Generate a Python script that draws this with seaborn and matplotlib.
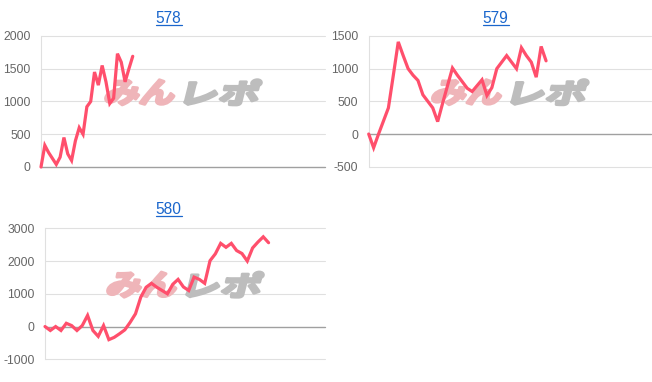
import matplotlib
matplotlib.use("Agg")
import matplotlib.pyplot as plt
import seaborn as sns
import pandas as pd
from matplotlib.textpath import TextPath
from matplotlib.patches import PathPatch
from matplotlib.font_manager import FontProperties
from matplotlib.transforms import Affine2D
from matplotlib.lines import Line2D

# ---------------- data ----------------
titles = ["578", "579", "580"]
values_578 = [0, 330, 220, 130, 40, 150, 450, 200, 100, 400, 600, 500, 920,
              1000, 1450, 1250, 1550, 1300, 970, 1050, 1730, 1600, 1300, 1500, 1690]
values_579 = [0, -210, 0, 200, 400, 900, 1410, 1200, 1000, 900, 820, 600, 500,
              400, 190, 470, 740, 1010, 900, 800, 700, 650, 740, 830, 590, 710,
              1000, 1100, 1200, 1100, 1000, 1320, 1200, 1100, 870, 1340, 1120]
values_580 = [0, -120, 0, -120, 100, 30, -120, 30, 340, -120, -300, 30, -400,
              -330, -220, -100, 130, 390, 900, 1200, 1320, 1200, 1100, 1000, 1290,
              1440, 1210, 1100, 1510, 1440, 1320, 2010, 2220, 2540, 2420, 2540,
              2320, 2230, 2000, 2400, 2580, 2740, 2560]
yticks_578 = [0, 500, 1000, 1500, 2000]
yticks_579 = [-500, 0, 500, 1000, 1500]
yticks_580 = [-1000, 0, 1000, 2000, 3000]
logo_left = "みん"
logo_right = "レポ"

# ---------------- layout ----------------
W, H = 652, 382
sns.set_style("white")
plt.rcParams["font.family"] = ["Liberation Sans", "DejaVu Sans"]

LINE_COLOR = "#ff4f6c"
GRID = "#e0e0e0"
ZERO = "#a0a0a0"
TICK = "#666666"
TITLE = "#1a66cc"

panels = [
    dict(title=titles[0], values=values_578, yticks=yticks_578,
         box=(41, 36, 325, 167), span=74.3, tx=168.7, ty=22.7),
    dict(title=titles[1], values=values_579, yticks=yticks_579,
         box=(368.7, 36, 651, 166.7), span=57.3, tx=495.7, ty=22.7),
    dict(title=titles[2], values=values_580, yticks=yticks_580,
         box=(45, 228.3, 325, 359.3), span=52.6, tx=168.7, ty=214.3),
]

fig = plt.figure(figsize=(W / 100, H / 100), dpi=100)
px2fig = Affine2D().scale(1 / W, 1 / H) + fig.transFigure

fp_logo = FontProperties(family="Noto Sans CJK JP", weight="bold")


def add_logo(ax, cx, cy):
    total_w, h = 158, 25
    parts = [(logo_left, "#efb5b9", 0, 74), (logo_right, "#bdbdbd", 80, 78)]
    skew = 14
    shift = h * 0.249
    left0 = cx - total_w / 2
    bottom = cy - h / 2
    for txt, col, off, w in parts:
        tp = TextPath((0, 0), txt, size=100, prop=fp_logo)
        e = tp.get_extents()
        t = (Affine2D().translate(-e.x0, -e.y0)
             .scale((w - shift) / e.width, h / e.height)
             .skew_deg(skew, 0)
             .translate(left0 + off, bottom)) + px2fig
        patch = PathPatch(tp, facecolor=col, edgecolor=col, linewidth=2.2,
                          joinstyle="round", transform=t, zorder=1.5)
        ax.add_patch(patch)


for p in panels:
    l, t, r, b = p["box"]
    ax = fig.add_axes([l / W, 1 - b / H, (r - l) / W, (b - t) / H])
    df = pd.DataFrame({"slot": range(len(p["values"])), "value": p["values"]})
    sns.lineplot(data=df, x="slot", y="value", ax=ax, color=LINE_COLOR,
                 linewidth=2.3, zorder=3)
    for ln in ax.lines:
        ln.set_clip_on(False)
        ln.set_solid_joinstyle("miter")
    yt = p["yticks"]
    for v in yt:
        if v != 0:
            ax.axhline(v, color=GRID, lw=0.8, zorder=0.5, clip_on=False)
    ax.axhline(0, color=ZERO, lw=1.0, zorder=1, clip_on=False)
    ax.set_xlim(0, p["span"])
    ax.set_ylim(yt[0], yt[-1])
    ax.set_yticks(yt)
    ax.set_yticklabels([str(v) for v in yt])
    ax.set_xticks([])
    ax.set_xlabel("")
    ax.set_ylabel("")
    ax.grid(False)
    for s in ["top", "right", "bottom"]:
        ax.spines[s].set_visible(False)
    ax.spines["left"].set_color(GRID)
    ax.spines["left"].set_linewidth(0.8)
    ax.tick_params(axis="y", length=0, pad=7.5, labelsize=8.7, labelcolor=TICK)
    bb = ax.get_position()
    add_logo(ax, (bb.x0 + bb.x1) / 2 * W, (bb.y0 + 0.57 * bb.height) * H)

texts = []
for p in panels:
    tx = fig.text(p["tx"] / W, 1 - p["ty"] / H, p["title"], color=TITLE,
                  fontsize=11.2, ha="center", va="baseline")
    texts.append((tx, p["ty"]))

fig.canvas.draw()
rend = fig.canvas.get_renderer()
for tx, ty in texts:
    ext = tx.get_window_extent(rend)
    yline = 1 - (ty + 1.8) / H
    fig.add_artist(Line2D([ext.x0 / W, ext.x1 / W], [yline, yline],
                          color=TITLE, lw=0.9, transform=fig.transFigure))

fig.savefig("out.png", dpi=100)
